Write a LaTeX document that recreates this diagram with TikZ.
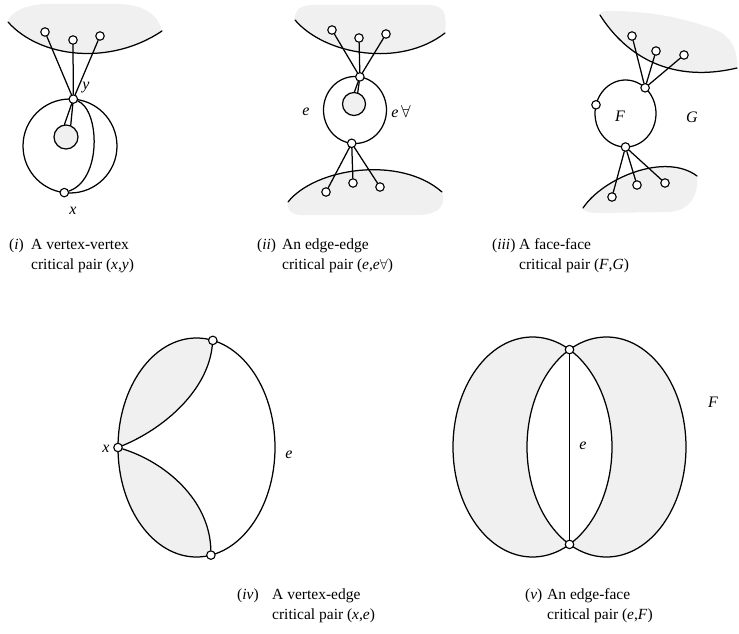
\documentclass[tikz,border=0pt]{standalone}
\usepackage{fontspec}
\setmainfont{Liberation Serif}
\definecolor{lightgrey}{RGB}{240,240,240}
\tikzset{
  edge/.style={line width=1.25pt, line cap=round},
  vtx/.style={circle, draw, fill=white, line width=1.1pt, inner sep=0pt, minimum size=8.5pt},
  disc/.style={circle, draw, fill=lightgrey, line width=1.25pt, inner sep=0pt},
  blob/.style={fill=lightgrey},
  lbl/.style={font=\fontsize{16}{19}\selectfont\itshape, inner sep=0pt},
  captext/.style={font=\fontsize{15.5}{20}\selectfont, anchor=base west, inner sep=0pt}
}
\begin{document}
\begin{tikzpicture}[x=1pt,y=1pt]
\useasboundingbox (0,0) rectangle (739,-634);

% ---------- panel (i) ----------
\fill[blob] (8,-22) .. controls (40,-58) and (110,-66) .. (162,-31)
  .. controls (158,-15) and (145,-5) .. (120,-4) -- (45,-4)
  .. controls (25,-5) and (10,-12) .. (8,-22) -- cycle;
\draw[edge] (8,-22) .. controls (40,-58) and (110,-66) .. (162,-31);
\draw[edge] (70,-146) circle[radius=47];
\node[disc, minimum size=24pt] (s1) at (66,-137) {};
\node[vtx] (y1) at (73.3,-99.1) {};
\node[vtx] (x1) at (64.3,-192.6) {};
\node[vtx] (a1) at (45,-32) {};
\node[vtx] (a2) at (73,-40) {};
\node[vtx] (a3) at (100,-36) {};
\draw[edge] (y1) .. controls (100,-110) and (102,-180) .. (x1);
\draw[edge] (y1) -- (s1.97);
\draw[edge] (y1) -- (s1.68);
\draw[edge] (y1) -- (a1);
\draw[edge] (y1) -- (a2);
\draw[edge] (y1) -- (a3);
\node[lbl] (ly1) at (86,-88) {y};
\node[lbl] (lx1) at (73,-211) {x};

% ---------- panel (ii) ----------
\fill[blob] (295,-20) .. controls (325,-55) and (400,-68) .. (445,-33)
  .. controls (447,-15) and (445,-6) .. (430,-5) -- (310,-5)
  .. controls (298,-6) and (294,-12) .. (295,-20) -- cycle;
\draw[edge] (295,-20) .. controls (325,-55) and (400,-68) .. (445,-33);
\fill[blob] (288,-202) .. controls (315,-168) and (400,-155) .. (442,-192)
  .. controls (446,-205) and (440,-214) .. (420,-215) -- (300,-215)
  .. controls (290,-214) and (286,-208) .. (288,-202) -- cycle;
\draw[edge] (288,-202) .. controls (315,-168) and (400,-155) .. (442,-192);
\draw[edge] (355,-110) ellipse[x radius=31.5, y radius=33.5];
\node[disc, minimum size=23pt] (s2) at (354,-104) {};
\node[vtx] (h1) at (359.9,-76.9) {};
\node[vtx] (h2) at (351.7,-143.3) {};
\node[vtx] (t1) at (332,-30) {};
\node[vtx] (t2) at (359,-38) {};
\node[vtx] (t3) at (386,-34) {};
\node[vtx] (b1) at (326,-192) {};
\node[vtx] (b2) at (353,-183) {};
\node[vtx] (b3) at (380,-187) {};
\draw[edge] (h1) -- (s2.88);
\draw[edge] (h1) -- (s2.72);
\foreach \v in {t1,t2,t3} \draw[edge] (h1) -- (\v);
\foreach \v in {b1,b2,b3} \draw[edge] (h2) -- (\v);
\node[lbl] (le2) at (306,-112) {e};
\node[lbl] (lf2) at (401,-112) {e\,\textup{$\forall$}};

% ---------- panel (iii) ----------
\fill[blob] (600,-15) .. controls (622,-50) and (665,-85) .. (737,-68)
  .. controls (738,-45) and (728,-32) .. (705,-26)
  .. controls (675,-16) and (645,-11) .. (610,-11)
  .. controls (603,-11) and (599,-12) .. (600,-15) -- cycle;
\draw[edge] (600,-15) .. controls (622,-50) and (665,-85) .. (737,-68);
\fill[blob] (583,-208) .. controls (603,-178) and (665,-152) .. (697,-176)
  .. controls (699,-195) and (690,-210) .. (670,-212) -- (600,-213)
  .. controls (588,-213) and (583,-211) .. (583,-208) -- cycle;
\draw[edge] (583,-208) .. controls (603,-178) and (665,-152) .. (697,-176);
\draw[edge] (625.5,-113.5) ellipse[x radius=30.5, y radius=33.5];
\node[vtx] (h3) at (645.1,-87.8) {};
\node[vtx] (w3) at (596.0,-104.8) {};
\node[vtx] (h4) at (625.5,-147) {};
\node[vtx] (c1) at (632,-36) {};
\node[vtx] (c2) at (656,-51) {};
\node[vtx] (c3) at (684,-55) {};
\node[vtx] (d1) at (612,-197) {};
\node[vtx] (d2) at (637,-185) {};
\node[vtx] (d3) at (665,-183) {};
\foreach \v in {c1,c2,c3} \draw[edge] (h3) -- (\v);
\foreach \v in {d1,d2,d3} \draw[edge] (h4) -- (\v);
\node[lbl] (lF3) at (620,-116) {F};
\node[lbl] (lG3) at (692,-117) {G};

% ---------- panel (iv) ----------
\coordinate (C4) at (196.5,-447.5);
\fill[blob] (118,-447.5) arc[start angle=180, end angle=78, x radius=78.5, y radius=109.5]
  .. controls (208,-390) and (165,-428) .. (118,-447.5) -- cycle;
\fill[blob] (118,-447.5) arc[start angle=180, end angle=280.6, x radius=78.5, y radius=109.5]
  .. controls (210,-500) and (165,-462) .. (118,-447.5) -- cycle;
\draw[edge] (C4) ellipse[x radius=78.5, y radius=109.5];
\node[vtx] (T4) at (212.8,-340.4) {};
\node[vtx] (X4) at (118,-447.5) {};
\node[vtx] (B4) at (210.9,-555.1) {};
\draw[edge] (T4) .. controls (208,-390) and (165,-428) .. (X4);
\draw[edge] (X4) .. controls (165,-462) and (210,-500) .. (B4);
\node[lbl] (lx4) at (106,-449) {x};
\node[lbl] (le4) at (289,-455) {e};

% ---------- panel (v) ----------
\fill[blob, even odd rule] (532.5,-447) ellipse[x radius=79.5, y radius=110]
  (606.5,-447) ellipse[x radius=79.5, y radius=110];
\draw[edge] (532.5,-447) ellipse[x radius=79.5, y radius=110];
\draw[edge] (606.5,-447) ellipse[x radius=79.5, y radius=110];
\node[vtx] (U5) at (569.5,-349.6) {};
\node[vtx] (D5) at (569.5,-544.4) {};
\draw[edge] (U5) -- (D5);
\node[lbl] (le5) at (583,-446) {e};
\node[lbl] (lF5) at (713,-402) {F};

% ---------- captions ----------
\node[captext] (c1a) at (9,-249) {(\textit{i})};
\node[captext] (c1b) at (31,-249) {A vertex-vertex};
\node[captext] (c1c) at (31,-269) {critical pair (\textit{x},\textit{y})};
\node[captext] (c2a) at (257,-249) {(\textit{ii})};
\node[captext] (c2b) at (282,-249) {An edge-edge};
\node[captext] (c2c) at (282,-269) {critical pair (\textit{e},\textit{e}$\forall$)};
\node[captext] (c3a) at (492,-249) {(\textit{iii})};
\node[captext] (c3b) at (519,-249) {A face-face};
\node[captext] (c3c) at (519,-269) {critical pair (\textit{F},\textit{G})};
\node[captext] (c4a) at (237,-599) {(\textit{iv})};
\node[captext] (c4b) at (272,-599) {A vertex-edge};
\node[captext] (c4c) at (272,-619) {critical pair (\textit{x},\textit{e})};
\node[captext] (c5a) at (525,-599) {(\textit{v})};
\node[captext] (c5b) at (547,-599) {An edge-face};
\node[captext] (c5c) at (547,-619) {critical pair (\textit{e},\textit{F})};
\end{tikzpicture}
\end{document}
